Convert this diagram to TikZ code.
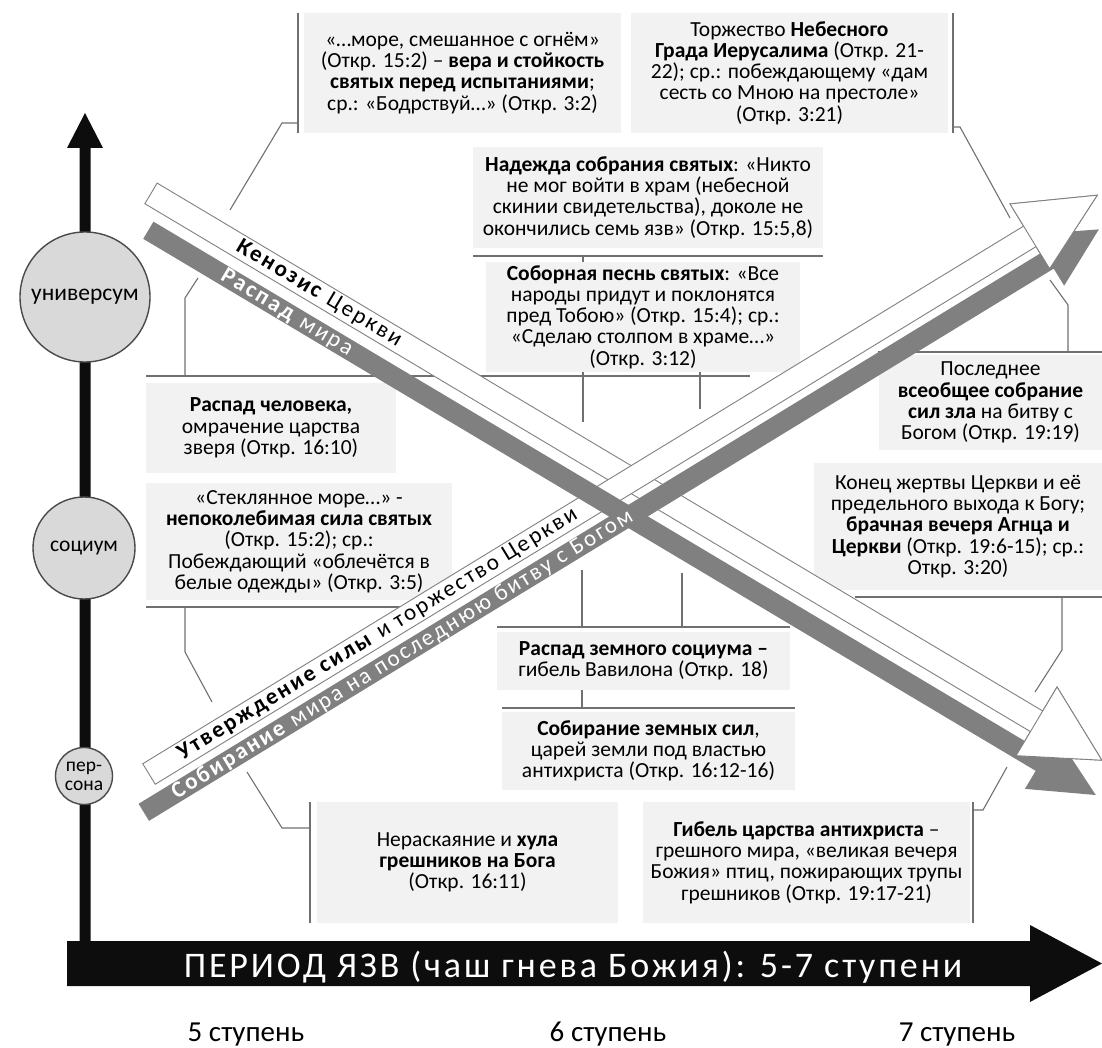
\documentclass[tikz,border=0pt]{standalone}
\usepackage{fontspec}
\setmainfont{Carlito}
\newfontfamily\bandfont[LetterSpace=10]{Carlito}
\newfontfamily\barfont[LetterSpace=8]{Carlito}
\newcommand\bodysize{\fontsize{21.5}{21.3}\selectfont}
\definecolor{boxfill}{HTML}{F2F2F2}
\definecolor{linegray}{HTML}{707070}
\definecolor{bandgray}{HTML}{808080}
\definecolor{circfill}{HTML}{D9D9D9}
\definecolor{circline}{HTML}{4A4A4A}
\definecolor{barblack}{HTML}{0D0D0D}
\begin{document}
\begin{tikzpicture}[x=1pt, y=-1pt,
  box/.style={fill=boxfill, inner sep=0pt, align=center, font=\bodysize},
  rule/.style={draw=linegray, line width=1.1pt},
  band/.style={draw=bandgray, line width=0.9pt, fill=white},
  shade/.style={fill=bandgray},
  circ/.style={circle, draw=circline, line width=1.4pt, fill=circfill, inner sep=0pt, align=center},
  bandtxt/.style={inner sep=0pt, font=\bandfont\fontsize{23}{23}\selectfont},
  steplabel/.style={anchor=base, font=\fontsize{29}{29}\selectfont},
  fallframe/.style={shift={(151,193.4)}, rotate=-30.8},
  riseframe/.style={shift={(149,774)}, rotate=31.4}]
\useasboundingbox (0,0) rectangle (1102,1048);

% ---------- thin rules and leader lines (under the boxes) ----------
\draw[rule] (298,13) -- (298,133);
\draw[rule] (298,123) -- (282,123) -- (230,210) coordinate (e1);
\draw[rule] (953,13) -- (953,133);
\draw[rule] (953,127) -- (960,127) -- (1010,218) coordinate (e2);
\draw[rule] (473,256) -- (823,256);
\draw[rule] (583,256) -- (583,422) coordinate (e3);
\draw[rule] (700,372) -- (700,409) coordinate (e4);
\draw[rule] (146,376) -- (750,376);
\draw[rule] (185,376) -- (185,298) -- (198,278) coordinate (e5);
\draw[rule] (146,607) -- (420,607);
\draw[rule] (185,607) -- (185,652) -- (212,702) coordinate (e6);
\draw[rule] (878,352) -- (1102,352);
\draw[rule] (1068,352) -- (1068,305) -- (1050,280) coordinate (e7);
\draw[rule] (855,597) -- (1102,597);
\draw[rule] (1062,597) -- (1062,650) -- (1035,692) coordinate (e8);
\draw[rule] (497,627) -- (790,627);
\draw[rule] (582,627) -- (582,570) coordinate (e9);
\draw[rule] (682,627) -- (682,573) coordinate (e10);
\draw[rule] (582,690) -- (582,708);
\draw[rule] (502,708) -- (795,708);
\draw[rule] (310,802) -- (310,923);
\draw[rule] (310,828) -- (282,828) -- (247,772) coordinate (e11);
\draw[rule] (973,802) -- (973,923);
\draw[rule] (973,810) -- (983,810) -- (1007,767) coordinate (e12);

% ---------- text boxes ----------
\node[box, minimum width=317, minimum height=120] (b1) at (462.5,73)
  {«…море, смешанное с огнём»\\(Откр. 15:2) – \textbf{вера и стойкость}\\\textbf{святых перед испытаниями};\\ср.: «Бодрствуй…» (Откр. 3:2)};
\node[box, minimum width=317, minimum height=120] (b2) at (789.5,73)
  {Торжество \textbf{Небесного}\\\textbf{Града Иерусалима} (Откр. 21-\\22); ср.: побеждающему «дам\\сесть со Мною на престоле»\\(Откр. 3:21)};
\node[box, minimum width=350, minimum height=101] (b3) at (648,197.5)
  {\textbf{Надежда собрания святых}: «Никто\\не мог войти в храм (небесной\\скинии свидетельства), доколе не\\окончились семь язв» (Откр. 15:5,8)};
\node[box, minimum width=314, minimum height=110] (b4) at (643,317)
  {\textbf{Соборная песнь святых}: «Все\\народы придут и поклонятся\\пред Тобою» (Откр. 15:4); ср.:\\«Сделаю столпом в храме…»\\(Откр. 3:12)};
\node[box, minimum width=250, minimum height=90] (b5) at (271,428)
  {\textbf{Распад человека,}\\омрачение царства\\зверя (Откр. 16:10)};
\node[box, minimum width=306, minimum height=117] (b6) at (299,541.5)
  {«Стеклянное море…» -\\\textbf{непоколебимая сила святых}\\(Откр. 15:2); ср.:\\Побеждающий «облечётся в\\белые одежды» (Откр. 3:5)};
\node[box, minimum width=223, minimum height=95] (b7) at (990.5,402.5)
  {Последнее\\\textbf{всеобщее собрание}\\\textbf{сил зла} на битву с\\Богом (Откр. 19:19)};
\node[box, minimum width=288, minimum height=127] (b8) at (958,526.5)
  {Конец жертвы Церкви и её\\предельного выхода к Богу;\\\textbf{брачная вечеря Агнца и}\\\textbf{Церкви} (Откр. 19:6-15); ср.:\\Откр. 3:20)};
\node[box, minimum width=293, minimum height=58] (b9) at (643.5,661)
  {\textbf{Распад земного социума –}\\гибель Вавилона (Откр. 18)};
\node[box, minimum width=293, minimum height=78] (b10) at (648.5,751)
  {\textbf{Собирание земных сил},\\царей земли под властью\\антихриста (Откр. 16:12-16)};
\node[box, minimum width=301, minimum height=121] (b11) at (467.5,862.5)
  {Нераскаяние и \textbf{хула}\\\textbf{грешников на Бога}\\(Откр. 16:11)};
\node[box, minimum width=327, minimum height=121] (b12) at (806.5,862.5)
  {\textbf{Гибель царства антихриста} –\\грешного мира, «великая вечеря\\Божия» птиц, пожирающих трупы\\грешников (Откр. 19:17-21)};

% ---------- white bands (outlined block arrows) ----------
\begin{scope}[fallframe]
  \path[band] (0,-12) -- (1031,-12) -- (1031,-40) -- (1107,0) -- (1031,40) -- (1031,12) -- (0,12) -- cycle;
  \node[bandtxt, rotate=-30.8] (kenosis) at (195.5,0) {\textbf{Кенозис} Церкви};
\end{scope}
\begin{scope}[riseframe]
  \path[band] (0,-12) -- (1032,-12) -- (1032,-38) -- (1111,0) -- (1032,38) -- (1032,12) -- (0,12) -- cycle;
  \node[bandtxt, rotate=31.4] (strength) at (268,0) {\textbf{Утверждение силы} и торжество Церкви};
\end{scope}

% ---------- grey bands, lying over the white ones ----------
\begin{scope}[fallframe]
  \path[shade] (16.6,23) -- (1055.6,23) -- (1055.6,2) -- (1119.6,33) -- (1055.6,64) -- (1055.6,43) -- (16.6,43) -- cycle;
  \node[bandtxt, white, rotate=-30.8] (decay) at (177.6,33) {\textbf{Распад} мира};
\end{scope}
\begin{scope}[riseframe]
  \path[shade] (-24.4,20) -- (1035.6,20) -- (1035.6,0) -- (1094.6,30) -- (1035.6,60) -- (1035.6,40) -- (-24.4,40) -- cycle;
  \node[bandtxt, white, rotate=31.4] (gathering) at (278.6,30) {\textbf{Собирание} мира на последнюю битву с Богом};
\end{scope}

% ---------- white arrow heads in front of the grey heads ----------
\begin{scope}[fallframe]
  \path[band] (1031,-40) -- (1107,0) -- (1031,40) -- cycle;
\end{scope}
\begin{scope}[riseframe]
  \path[band] (1032,-38) -- (1111,0) -- (1032,38) -- cycle;
\end{scope}

% ---------- vertical scale ----------
\fill[barblack] (79.5,941) -- (79.5,148) -- (67,148) -- (85,113) -- (103,148) -- (90.5,148) -- (90.5,941) -- cycle;
\node[circ, minimum size=130, font=\fontsize{23.5}{23.5}\selectfont] (univ) at (85,297) {универсум};
\node[circ, minimum size=102, font=\fontsize{21.5}{21.5}\selectfont] (soc) at (84,548) {социум};
\node[circ, minimum size=57, font=\fontsize{19.5}{19}\selectfont] (pers) at (84,776) {пер-\\сона};

% ---------- time axis ----------
\fill[barblack] (67,941) -- (1030,941) -- (1030,925) -- (1102,963.5) -- (1030,1002) -- (1030,986) -- (67,986) -- cycle;
\node[anchor=base, white, inner sep=0pt, font=\barfont\fontsize{36}{36}\selectfont] (period) at (573,977)
  {ПЕРИОД ЯЗВ (чаш гнева Божия): 5-7 ступени};
\node[steplabel] (s5) at (246,1041) {5 ступень};
\node[steplabel] (s6) at (608,1041) {6 ступень};
\node[steplabel] (s7) at (957,1041) {7 ступень};
\end{tikzpicture}
\end{document}
